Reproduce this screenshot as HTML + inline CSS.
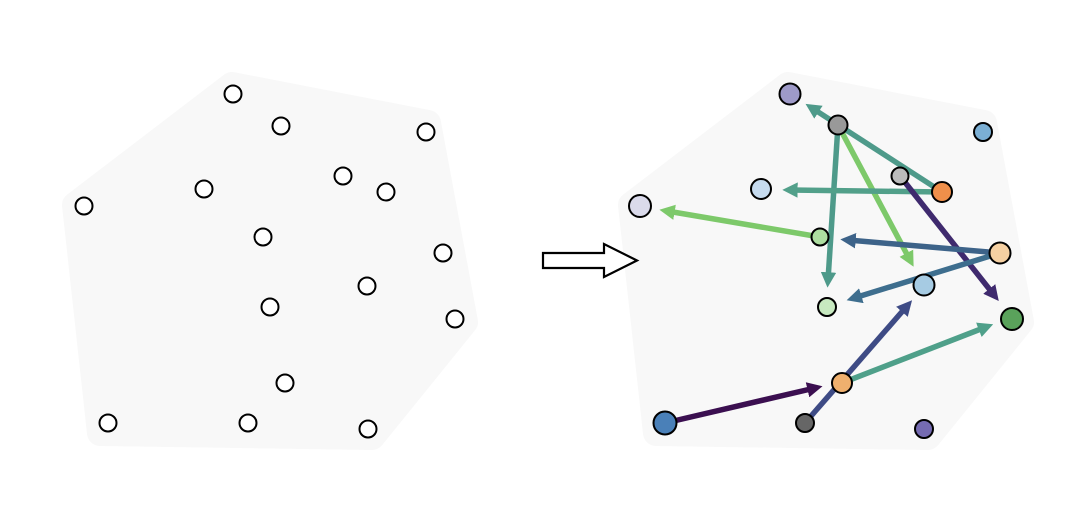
<!DOCTYPE html>
<html><head><meta charset="utf-8"><style>html,body{margin:0;padding:0;background:#fff}svg{display:block}</style></head>
<body>
<svg width="1090" height="507" viewBox="0 0 1090 507" xmlns="http://www.w3.org/2000/svg">
<defs>
<marker id="ah" viewBox="0 0 10 10" refX="5" refY="5" markerWidth="2.8" markerHeight="2.8" orient="auto" markerUnits="strokeWidth">
<path d="M0,0 L10,5 L0,10 z" fill="context-stroke"/>
</marker>
</defs>
<g fill="#f8f8f8" stroke="#f8f8f8" stroke-width="26" stroke-linejoin="round">
<polygon points="232,85 428,123 465,322 372,437 100,433 75,205"/>
<polygon points="788,85 984,123 1021,322 928,437 656,433 631,205"/>
</g>
<g fill="#fff" stroke="#000" stroke-width="2">
<circle cx="233" cy="94" r="8.5"/><circle cx="281" cy="126" r="8.5"/><circle cx="426" cy="132" r="8.5"/>
<circle cx="204" cy="189" r="8.5"/><circle cx="343" cy="176" r="8.5"/><circle cx="386" cy="192" r="8.5"/>
<circle cx="84" cy="206" r="8.5"/><circle cx="263" cy="237" r="8.5"/><circle cx="443" cy="253" r="8.5"/>
<circle cx="367" cy="286" r="8.5"/><circle cx="270" cy="307" r="8.5"/><circle cx="455" cy="319" r="8.5"/>
<circle cx="285" cy="383" r="8.5"/><circle cx="108" cy="423" r="8.5"/><circle cx="248" cy="423" r="8.5"/>
<circle cx="368" cy="429" r="8.5"/>
</g>
<polygon points="543,253 604,253 604,244 637,260.5 604,277 604,268 543,268" fill="#fff" stroke="#000" stroke-width="2.2"/>
<g fill="none" stroke-width="5.5" marker-end="url(#ah)">
<line x1="942" y1="192" x2="812" y2="108" stroke="#4e9a8a"/>
<line x1="838" y1="125" x2="828" y2="280" stroke="#4e9a8a"/>
<line x1="838" y1="125" x2="910" y2="260" stroke="#7dc96a"/>
<line x1="942" y1="192" x2="790" y2="190" stroke="#52a08a"/>
<line x1="820" y1="237" x2="667" y2="211" stroke="#7dc96a"/>
<line x1="900" y1="176" x2="994" y2="295" stroke="#3f2a6e"/>
<line x1="1000" y1="253" x2="848" y2="240" stroke="#3d6389"/>
<line x1="1000" y1="253" x2="854" y2="298" stroke="#3e6e8e"/>
<line x1="842" y1="383" x2="986" y2="327" stroke="#4fa08a"/>
<line x1="805" y1="423" x2="907" y2="306" stroke="#3e4b85"/>
<line x1="665" y1="423" x2="815" y2="388" stroke="#3b0f50"/>
</g>
<g stroke="#000" stroke-width="2">
<circle cx="790" cy="94" r="10.5" fill="#9e9ac8"/>
<circle cx="838" cy="125" r="9.5" fill="#999999"/>
<circle cx="983" cy="132" r="9" fill="#7bafd4"/>
<circle cx="900" cy="176" r="8.5" fill="#bbbbbb"/>
<circle cx="942" cy="192" r="10" fill="#ef8f4a"/>
<circle cx="761" cy="189" r="10" fill="#c6dbef"/>
<circle cx="640" cy="206" r="11" fill="#dadaeb"/>
<circle cx="820" cy="237" r="8.5" fill="#addea0"/>
<circle cx="1000" cy="253" r="10.5" fill="#f5d0a2"/>
<circle cx="924" cy="285" r="10.5" fill="#a6cbe3"/>
<circle cx="827" cy="307" r="9" fill="#c7e9c0"/>
<circle cx="1012" cy="319" r="11" fill="#5aa25b"/>
<circle cx="842" cy="383" r="10" fill="#efb06e"/>
<circle cx="665" cy="423" r="11.5" fill="#4a80b8"/>
<circle cx="805" cy="423" r="9" fill="#666666"/>
<circle cx="924" cy="429" r="9" fill="#756bb1"/>
</g>
</svg>
</body></html>
